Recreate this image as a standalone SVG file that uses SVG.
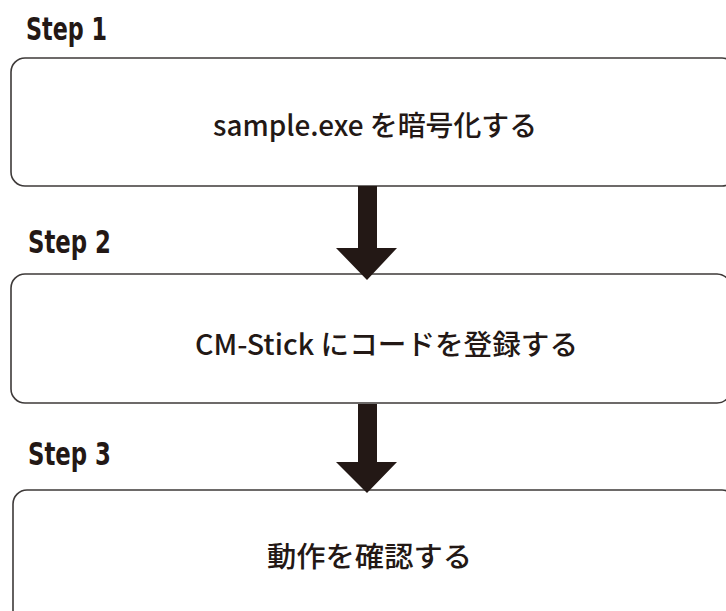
<svg xmlns="http://www.w3.org/2000/svg" width="726" height="611" viewBox="0 0 726 611">
<style>
.box{fill:#fff;stroke:#3e3a39;stroke-width:1.6}
.step{font-family:"Liberation Sans Narrow","DejaVu Sans Condensed","Noto Sans",sans-serif;font-weight:bold;font-size:32px;fill:#231815}
.lbl{font-family:"Noto Sans CJK JP","Noto Sans",sans-serif;font-size:28px;font-weight:500;fill:#231815}
.arrow{fill:#231815}
</style>
<rect width="726" height="611" fill="#fff"/>
<g id="step1">
<text class="step" x="26" y="40" textLength="81" lengthAdjust="spacingAndGlyphs">Step 1</text>
<rect class="box" x="11" y="58" width="725" height="128" rx="14" ry="14"/>
<text class="lbl" x="213" y="136" textLength="324" lengthAdjust="spacingAndGlyphs">sample.exe を暗号化する</text>
</g>
<g id="step2">
<text class="step" x="28" y="253" textLength="83" lengthAdjust="spacingAndGlyphs">Step 2</text>
<rect class="box" x="11" y="274" width="720" height="129" rx="14" ry="14"/>
<text class="lbl" x="195" y="355" textLength="383" lengthAdjust="spacingAndGlyphs">CM-Stick にコードを登録する</text>
</g>
<g id="step3">
<text class="step" x="28" y="465" textLength="83" lengthAdjust="spacingAndGlyphs">Step 3</text>
<rect class="box" x="13" y="490" width="723" height="140" rx="14" ry="14"/>
<text class="lbl" x="267" y="567" textLength="205" lengthAdjust="spacingAndGlyphs">動作を確認する</text>
</g>
<g id="connectors">
<polygon class="arrow" points="358,186 377,186 377,248 397,248 367,280 336,248 358,248"/>
<polygon class="arrow" points="358,404 377,404 377,462 397,462 367,493 336,462 358,462"/>
</g>
</svg>
